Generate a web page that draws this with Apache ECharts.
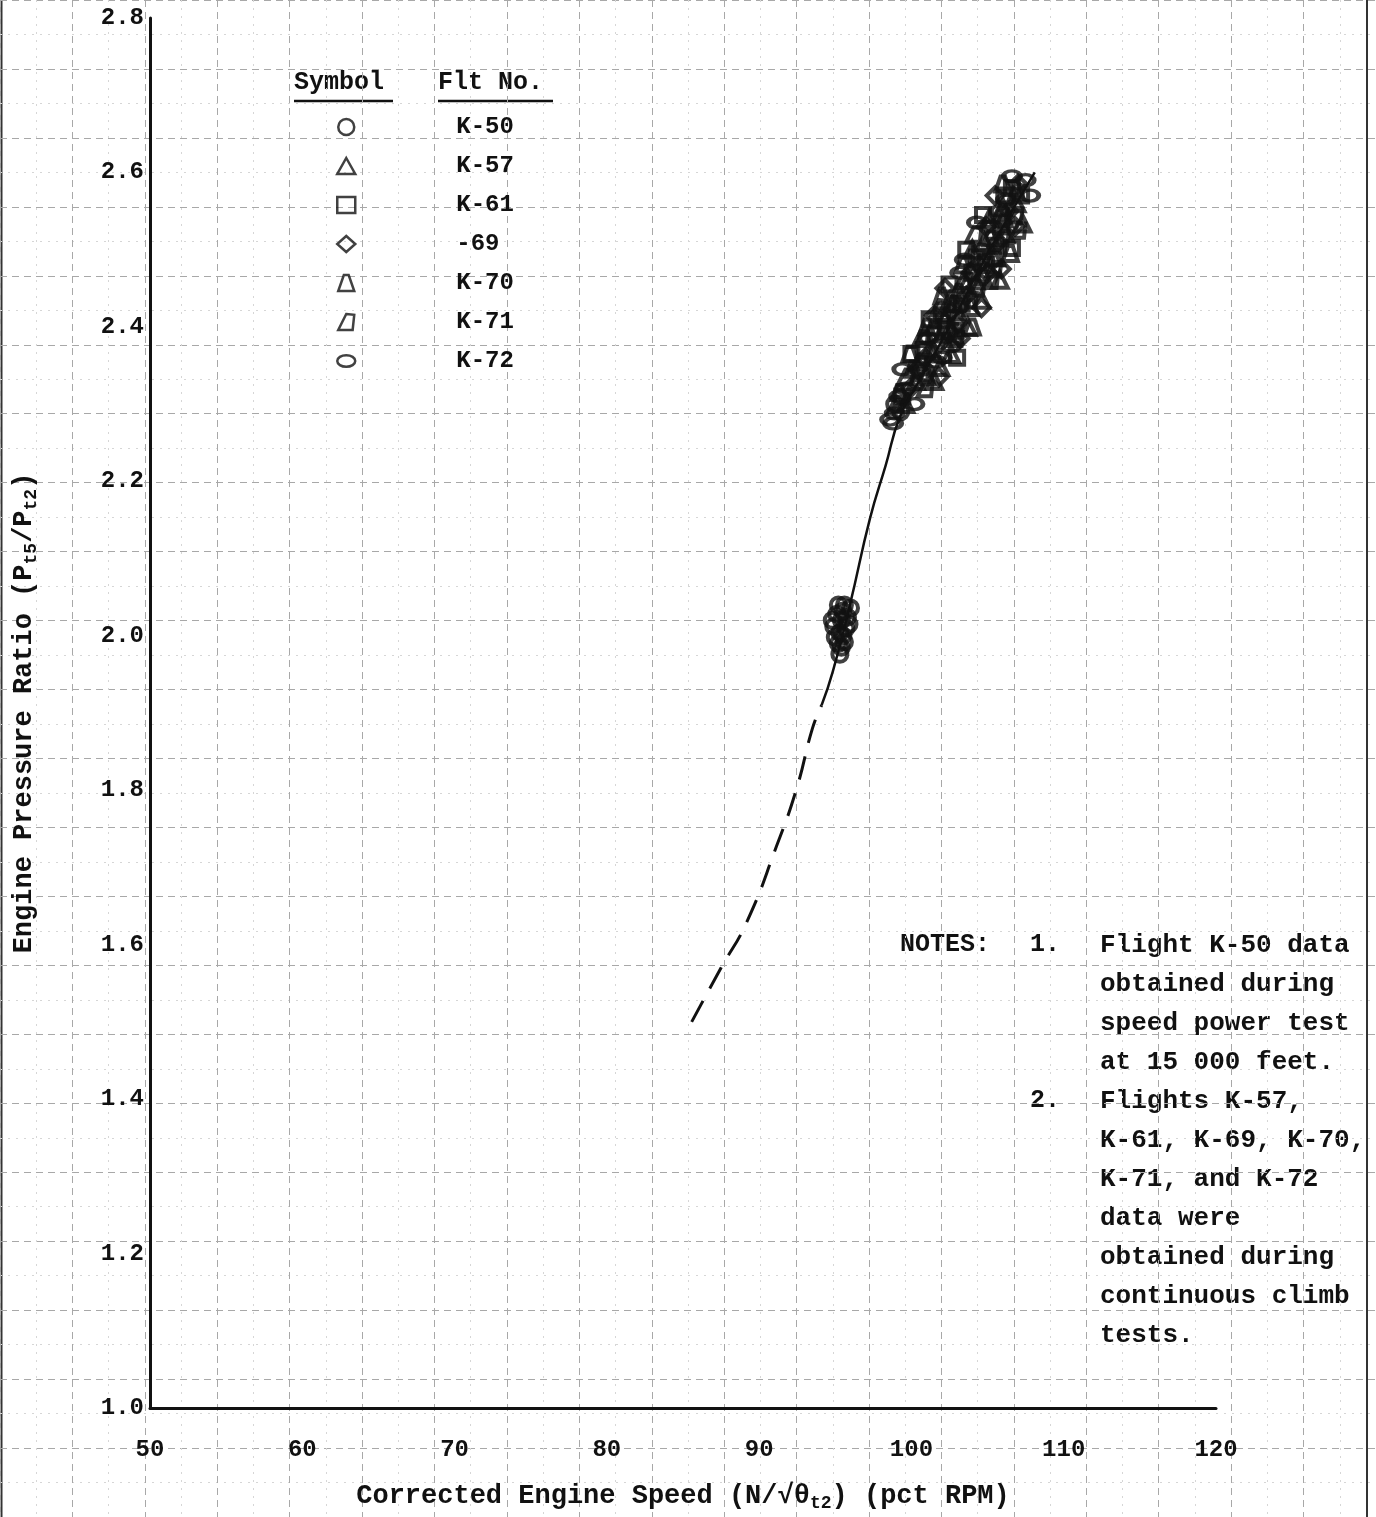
<!DOCTYPE html>
<html>
<head>
<meta charset="utf-8">
<script src="https://cdn.jsdelivr.net/npm/echarts@6/dist/echarts.min.js"></script>
<style>
html,body{margin:0;padding:0;background:#fff;}
#chart{width:1376px;height:1517px;}
</style>
</head>
<body>
<div id="chart"></div>
<script>
// ---------------- data ----------------
const xTicks = [50, 60, 70, 80, 90, 100, 110, 120];
const yTicks = [1.0, 1.2, 1.4, 1.6, 1.8, 2.0, 2.2, 2.4, 2.6, 2.8];

const flights = ['K-50', 'K-57', 'K-61', '-69', 'K-70', 'K-71', 'K-72'];

const k50 = [[95.3,1.976],[95.4,1.985],[95.6,1.992],[95.0,1.998],[95.3,2.004],[95.7,2.010],
             [94.9,2.012],[95.4,2.020],[95.8,2.024],[95.1,2.028],[96.0,2.036],[95.5,2.032],
             [95.2,1.990],[95.5,2.000],[94.8,2.020],[95.9,2.015],[95.6,2.040],[95.2,2.040],
             [98.9,2.300],[99.3,2.290]];
const k57 = [[100.3,2.330],[101.9,2.348],[101.2,2.370],[102.8,2.390],[103.0,2.420],[104.6,2.435],
             [104.2,2.460],[105.8,2.461],[105.4,2.490],[106.2,2.520],[107.3,2.534],[106.9,2.560],
             [101.5,2.330],[102.6,2.365],[103.7,2.400],[100.9,2.390],[104.0,2.500],[105.1,2.540],
             [99.6,2.300],[102.2,2.410],[103.6,2.455],[104.8,2.510],[106.0,2.555]];
const k61 = [[99.4,2.310],[100.6,2.340],[101.6,2.390],[102.3,2.400],[103.3,2.430],[104.0,2.470],
             [104.9,2.480],[106.6,2.502],[105.9,2.530],[106.6,2.580],[107.2,2.570],[102.0,2.415],
             [100.0,2.365],[101.2,2.410],[102.5,2.455],[103.6,2.500],[104.7,2.545],[103.0,2.360],
             [100.8,2.370],[102.9,2.395],[104.3,2.490],[105.5,2.505],[106.1,2.570]];
const k69 = [[99.9,2.320],[100.9,2.360],[101.9,2.380],[102.6,2.420],[103.6,2.440],[104.4,2.480],
             [105.0,2.470],[105.7,2.510],[106.4,2.550],[107.0,2.585],[103.0,2.405],
             [101.8,2.335],[103.2,2.385],[104.6,2.425],[105.9,2.475],[102.2,2.450],[105.5,2.570],
             [100.4,2.345],[101.5,2.415],[103.9,2.470],[104.9,2.530],[106.8,2.530]];
const k70 = [[100.1,2.345],[101.4,2.365],[102.1,2.395],[103.1,2.445],[103.9,2.425],[104.7,2.465],
             [105.2,2.515],[106.1,2.540],[106.9,2.575],[101.0,2.335],
             [99.2,2.315],[101.0,2.400],[102.0,2.440],[104.0,2.400],[106.5,2.495],
             [99.9,2.365],[102.8,2.430],[103.4,2.480],[105.6,2.490],[106.0,2.585]];
const k71 = [[99.6,2.335],[100.5,2.355],[101.4,2.400],[102.4,2.430],[103.4,2.460],[104.3,2.450],
             [105.4,2.475],[105.8,2.545],[106.8,2.545],[102.9,2.385],
             [99.0,2.300],[100.6,2.385],[101.8,2.425],[104.1,2.520],[105.2,2.460],[107.0,2.525],
             [100.9,2.320],[102.5,2.395],[103.8,2.435],[104.6,2.485],[105.9,2.515]];
const k72 = [[98.8,2.275],[98.9,2.288],[99.6,2.320],[100.2,2.300],[101.1,2.385],[102.0,2.360],
             [103.5,2.487],[104.6,2.500],[105.3,2.530],[106.2,2.565],[107.5,2.590],
             [98.6,2.280],[99.2,2.310],[100.8,2.345],[102.6,2.375],[103.2,2.470],[106.6,2.595],[107.8,2.570],
             [99.4,2.345],[101.6,2.355],[103.1,2.425],[104.3,2.535],[105.8,2.550]];

// faired curve (solid part) and its dashed extrapolation
const curveSolidX = [94.1, 94.84, 95.96, 97.28, 98.3, 99.25, 100.5, 102.5, 105.15, 108.1];
const curveSolidY = [1.910, 1.954, 2.040, 2.152, 2.220, 2.284, 2.330, 2.400, 2.500, 2.600];
const curveDashX = [85.57, 87.5, 89.18, 91.15, 92.46, 93.5, 94.1];
const curveDashY = [1.500, 1.570, 1.629, 1.728, 1.802, 1.880, 1.910];

const noteLines = [
  'Flight K-50 data', 'obtained during', 'speed power test', 'at 15 000 feet.',
  'Flights K-57,', 'K-61, K-69, K-70,', 'K-71, and K-72', 'data were',
  'obtained during', 'continuous climb', 'tests.'
];

// ---------------- chart ----------------
const FONT = '"Liberation Mono", "DejaVu Sans Mono", monospace';
const INK = '#111';

const symbols = {
  'K-50': 'circle',
  'K-57': 'triangle',
  'K-61': 'rect',
  '-69': 'diamond',
  'K-70': 'path://M3.5,0 L6.5,0 L10,10 L0,10 Z',
  'K-71': 'path://M5,0 L10,0.5 L9,10 L0,10 Z',
  'K-72': 'path://M0,4.5 A7,4.5 0 1,1 14,4.5 A7,4.5 0 1,1 0,4.5 Z'
};
const symSize = {
  'K-50': 15, 'K-57': 16, 'K-61': 14, '-69': 17, 'K-70': 15, 'K-71': 15, 'K-72': [17, 11]
};
const seriesData = [k50, k57, k61, k69, k70, k71, k72];

const scatterSeries = flights.map((name, i) => ({
  name: name,
  type: 'scatter',
  xAxisIndex: 0, yAxisIndex: 0,
  symbol: symbols[name],
  symbolSize: symSize[name],
  symbolKeepAspect: false,
  data: seriesData[i],
  itemStyle: { color: 'rgba(255,255,255,0)', borderColor: INK, borderWidth: 4 },
  z: 3
}));

const lineSeries = [
  {
    name: 'fair', type: 'line', smooth: true, showSymbol: false, silent: true,
    data: curveSolidX.map((x, i) => [x, curveSolidY[i]]),
    lineStyle: { color: INK, width: 2.5 }, z: 4
  },
  {
    name: 'extrap', type: 'line', smooth: true, showSymbol: false, silent: true,
    data: curveDashX.map((x, i) => [x, curveDashY[i]]),
    lineStyle: { color: INK, width: 3, type: [24, 14] }, z: 4
  }
];

const graphics = [];
// paper edges
graphics.push({ type: 'line', shape: { x1: 1.5, y1: 0, x2: 1.5, y2: 1517 }, style: { stroke: '#333', lineWidth: 2 } });
graphics.push({ type: 'line', shape: { x1: 1367, y1: 0, x2: 1367, y2: 1517 }, style: { stroke: '#333', lineWidth: 2 } });
// legend headers
graphics.push({ type: 'text', left: 294, top: 70, style: { text: 'Symbol', font: 'bold 25px ' + FONT, fill: INK } });
graphics.push({ type: 'text', left: 438, top: 70, style: { text: 'Flt No.', font: 'bold 25px ' + FONT, fill: INK } });
graphics.push({ type: 'line', shape: { x1: 294, y1: 101, x2: 393, y2: 101 }, style: { stroke: INK, lineWidth: 2.5 } });
graphics.push({ type: 'line', shape: { x1: 438, y1: 101, x2: 553, y2: 101 }, style: { stroke: INK, lineWidth: 2.5 } });
// notes
graphics.push({ type: 'text', x: 900, y: 945, style: { text: 'NOTES:', font: 'bold 25px ' + FONT, fill: INK, verticalAlign: 'middle' } });
graphics.push({ type: 'text', x: 1030, y: 945, style: { text: '1.', font: 'bold 25px ' + FONT, fill: INK, verticalAlign: 'middle' } });
graphics.push({ type: 'text', x: 1030, y: 945 + 4 * 39, style: { text: '2.', font: 'bold 25px ' + FONT, fill: INK, verticalAlign: 'middle' } });
noteLines.forEach((t, i) => {
  graphics.push({ type: 'text', x: 1100, y: 945 + i * 39, style: { text: t, font: 'bold 26px ' + FONT, fill: INK, verticalAlign: 'middle' } });
});

const option = {
  backgroundColor: '#fff',
  animation: false,
  grid: [
    { left: 150, top: 18, width: 1066, height: 1402 },
    { left: -2.29, top: -59.9, width: 1446.7, height: 1713.6 }
  ],
  xAxis: [
    {
      gridIndex: 0, type: 'value', min: 50, max: 120, interval: 10,
      axisLine: { show: true, onZero: false, lineStyle: { color: INK, width: 3 } },
      axisTick: { show: false },
      splitLine: { show: false },
      axisLabel: { color: INK, fontFamily: FONT, fontWeight: 'bold', fontSize: 24, margin: 30,
                   customValues: xTicks },
      name: '{t|Corrected Engine Speed (N/√θ}{s|t2}{t|) (pct RPM)}',
      nameLocation: 'middle', nameGap: 72,
      nameTextStyle: {
        rich: {
          t: { fontFamily: FONT, fontWeight: 'bold', fontSize: 27, color: INK },
          s: { fontFamily: FONT, fontWeight: 'bold', fontSize: 18, color: INK, padding: [14, 0, 0, 0] }
        }
      },
      z: 5
    },
    {
      gridIndex: 1, type: 'value', min: 40, max: 135, interval: 5,
      axisLine: { show: false }, axisTick: { show: false }, axisLabel: { show: false },
      splitLine: { show: true, lineStyle: { color: '#a8a8a8', width: 1, type: [7, 5] } },
      minorTick: { show: false, splitNumber: 2 },
      minorSplitLine: { show: true, lineStyle: { color: '#d6d6d6', width: 1, type: [2, 6] } },
      z: 0
    }
  ],
  yAxis: [
    {
      gridIndex: 0, type: 'value', min: 1.0, max: 2.8, interval: 0.2,
      axisLine: { show: true, onZero: false, lineStyle: { color: INK, width: 3 } },
      axisTick: { show: false },
      splitLine: { show: false },
      axisLabel: { color: INK, fontFamily: FONT, fontWeight: 'bold', fontSize: 24, margin: 6,
                   formatter: v => v.toFixed(1) },
      name: '{t|Engine Pressure Ratio (P}{s|t5}{t|/P}{s|t2}{t|)}',
      nameLocation: 'middle', nameGap: 110, nameRotate: 90,
      nameTextStyle: {
        rich: {
          t: { fontFamily: FONT, fontWeight: 'bold', fontSize: 27, color: INK },
          s: { fontFamily: FONT, fontWeight: 'bold', fontSize: 18, color: INK, padding: [14, 0, 0, 0] }
        }
      },
      z: 5
    },
    {
      gridIndex: 1, type: 'value', min: 0.7, max: 2.9, interval: 0.1,
      axisLine: { show: false }, axisTick: { show: false }, axisLabel: { show: false },
      splitLine: { show: true, lineStyle: { color: '#a8a8a8', width: 1, type: [7, 5] } },
      minorTick: { show: false, splitNumber: 2 },
      minorSplitLine: { show: true, lineStyle: { color: '#d6d6d6', width: 1, type: [2, 6] } },
      z: 0
    }
  ],
  legend: {
    orient: 'vertical',
    left: 331, top: 110,
    itemWidth: 18, itemHeight: 16,
    itemGap: 15,
    selectedMode: false,
    data: flights,
    formatter: name => '{n|' + name + '}',
    itemStyle: { borderWidth: 2.5 },
    textStyle: {
      color: INK,
      rich: {
        n: { fontFamily: FONT, fontWeight: 'bold', fontSize: 24, color: INK, lineHeight: 24,
             padding: [0, 0, 0, 96], width: 160, align: 'left' }
      }
    }
  },
  graphic: graphics,
  series: scatterSeries.concat(lineSeries)
};

const chart = echarts.init(document.getElementById('chart'), null, { renderer: 'canvas' });
chart.setOption(option);
</script>
</body>
</html>
